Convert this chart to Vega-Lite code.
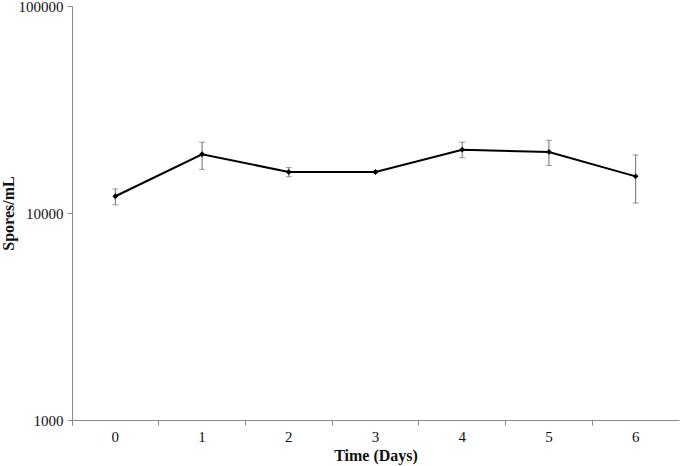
{
  "$schema": "https://vega.github.io/schema/vega-lite/v6.json",
  "width": 607,
  "height": 414,
  "autosize": {"type": "none"},
  "padding": {"left": 72, "top": 6, "right": 1, "bottom": 46},
  "background": "white",
  "config": {
    "view": {"stroke": null},
    "font": "Liberation Serif",
    "axis": {
      "grid": false,
      "domainColor": "#8a8a8a",
      "tickColor": "#8a8a8a",
      "labelFont": "Liberation Serif",
      "labelFontSize": 15,
      "labelColor": "#111111",
      "titleFont": "Liberation Serif",
      "titleFontSize": 16,
      "titleFontWeight": "bold",
      "titleColor": "#111111"
    }
  },
  "data": {
    "values": [
      {"day": "0", "mean": 12050, "lo": 10960, "hi": 13070},
      {"day": "1", "mean": 19220, "lo": 16250, "hi": 21980},
      {"day": "2", "mean": 15780, "lo": 14960, "hi": 16560},
      {"day": "3", "mean": 15780, "lo": 15650, "hi": 15910},
      {"day": "4", "mean": 20220, "lo": 18490, "hi": 21980},
      {"day": "5", "mean": 19720, "lo": 16980, "hi": 22450},
      {"day": "6", "mean": 15030, "lo": 11170, "hi": 19070}
    ]
  },
  "encoding": {
    "x": {
      "field": "day",
      "type": "ordinal",
      "scale": {"type": "band", "paddingInner": 0, "paddingOuter": 0},
      "axis": {
        "title": "Time (Days)",
        "labelAngle": 0,
        "bandPosition": 0,
        "tickExtra": true,
        "tickSize": 5,
        "labelPadding": 4,
        "titlePadding": 3
      }
    }
  },
  "layer": [
    {
      "mark": {"type": "errorbar", "ticks": {"size": 6, "color": "#6e6e6e", "strokeWidth": 1}, "rule": {"color": "#6e6e6e", "strokeWidth": 1}},
      "encoding": {
        "y": {
          "field": "lo",
          "type": "quantitative",
          "title": "Spores/mL",
          "scale": {"type": "log", "domain": [1000, 100000], "nice": false}
        },
        "y2": {"field": "hi"}
      }
    },
    {
      "mark": {"type": "line", "color": "black", "strokeWidth": 2},
      "encoding": {
        "y": {
          "field": "mean",
          "type": "quantitative",
          "title": "Spores/mL",
          "scale": {"type": "log", "domain": [1000, 100000], "nice": false},
          "axis": {
            "title": "Spores/mL",
            "values": [1000, 10000, 100000],
            "format": "d",
            "tickSize": 5,
            "labelPadding": 4,
            "titleX": -64,
            "titleBaseline": "middle"
          }
        }
      }
    },
    {
      "mark": {"type": "point", "shape": "diamond", "filled": true, "color": "black", "size": 34, "opacity": 1},
      "encoding": {
        "y": {"field": "mean", "type": "quantitative", "title": "Spores/mL"}
      }
    }
  ]
}
